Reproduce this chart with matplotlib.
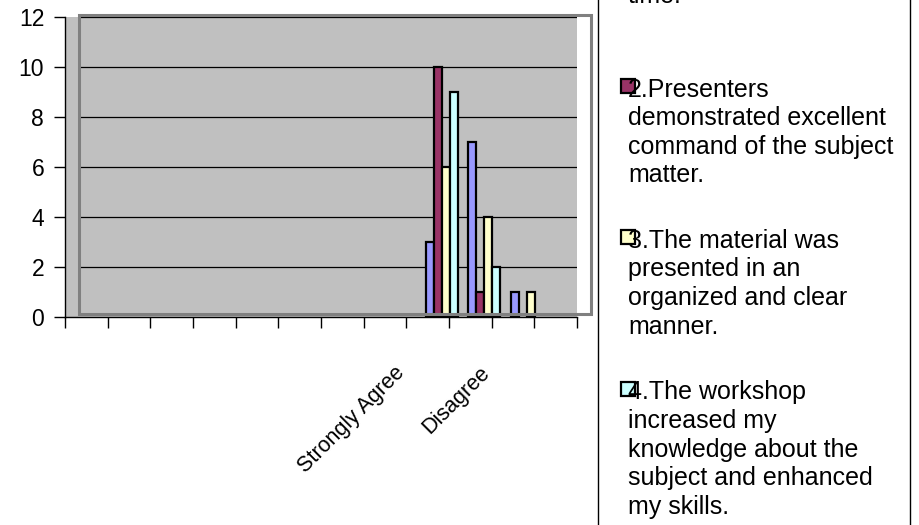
import numpy as np
import matplotlib
matplotlib.use("Agg")
from matplotlib import pyplot as plt
from matplotlib.patches import Rectangle
from matplotlib.lines import Line2D

plt.rcParams['font.family'] = ['Liberation Sans', 'DejaVu Sans']

# カテゴリ（表示されているラベルは2つだけ）
categories = ['', '', '', '', '', '', '', 'Strongly Agree', '', 'Disagree', '', '']

# 各設問の回答数
q1 = [0, 0, 0, 0, 0, 0, 0, 0, 3, 7, 1, 0]
q2 = [0, 0, 0, 0, 0, 0, 0, 0, 10, 1, 0, 0]
q3 = [0, 0, 0, 0, 0, 0, 0, 0, 6, 4, 1, 0]
q4 = [0, 0, 0, 0, 0, 0, 0, 0, 9, 2, 0, 0]

series_names = [
    '1.The workshop began and\nended at the scheduled\ntime.',
    '2.Presenters\ndemonstrated excellent\ncommand of the subject\nmatter.',
    '3.The material was\npresented in an\norganized and clear\nmanner.',
    '4.The workshop\nincreased my\nknowledge about the\nsubject and enhanced\nmy skills.',
]
colors = ['#9999FF', '#993366', '#FFFFCC', '#CCFFFF']

W, H = 919, 525
fig = plt.figure(figsize=(W / 100, H / 100), dpi=100)

# 軸の位置（ピクセル）
ax_l, ax_r, ax_t, ax_b = 65, 577, 17, 317
ax = fig.add_axes([ax_l / W, 1 - ax_b / H, (ax_r - ax_l) / W, (ax_b - ax_t) / H])
ax.set_facecolor('#C0C0C0')

n = len(categories)
x = np.arange(n)
shift = 0.33      # プロットエリアが右にずれている分
bw = 0.1875

for j, vals in enumerate([q1, q2, q3, q4]):
    bars = ax.bar(x + 0.5 + shift + (j - 1.5) * bw, vals, width=bw,
                  color=colors[j], edgecolor='black', linewidth=1.6, zorder=3)
    for b, v in zip(bars, vals):
        if v == 0:
            b.set_visible(False)

ax.set_xlim(0, n)
ax.set_ylim(0, 12)

# 目盛線
for yv in range(2, 13, 2):
    ax.axhline(yv, xmin=14 / 512, xmax=1, color='black', linewidth=0.9, zorder=1)

for s in ['top', 'right']:
    ax.spines[s].set_visible(False)
for s in ['left', 'bottom']:
    ax.spines[s].set_color('black')
    ax.spines[s].set_linewidth(1.0)

ax.set_yticks(range(0, 13, 2))
ax.tick_params(axis='y', direction='out', length=8, width=1, pad=7, labelsize=16.5)
ax.set_xticks(np.arange(0, n + 1))
ax.set_xticklabels([])
ax.tick_params(axis='x', which='major', direction='out', length=8, width=1)
ax.set_xticks(x + 0.5 + shift + 0.05, minor=True)
ax.set_xticklabels(categories, minor=True, rotation=45, ha='right', va='center',
                   rotation_mode='anchor', fontsize=15.5)
ax.tick_params(axis='x', which='minor', length=0, pad=38)

# プロットエリアの枠
fig.patches.append(Rectangle((79 / W, 1 - 314 / H), (591 - 79) / W, (314 - 15) / H,
                             transform=fig.transFigure, fill=False,
                             edgecolor='#808080', linewidth=2.2, zorder=5))

# 凡例の枠
for xl in [598, 910]:
    fig.lines.append(Line2D([xl / W, xl / W], [0, 1], transform=fig.transFigure,
                            color='black', linewidth=1.0))

# 凡例（各項目の1行目のベースライン位置）
line_h = 28.5
first_baseline = [3 - 2 * line_h, 97, 248, 400]
for name, c, yb in zip(series_names, colors, first_baseline):
    nlines = name.count('\n') + 1
    fig.patches.append(Rectangle((621 / W, 1 - (yb - 4) / H), 14 / W, 14 / H,
                                 transform=fig.transFigure, facecolor=c,
                                 edgecolor='black', linewidth=1.6, zorder=5))
    last = yb + (nlines - 1) * line_h
    fig.text(628 / W, 1 - last / H, name, fontsize=18, ha='left', va='baseline',
             linespacing=1.245, zorder=6)

fig.savefig('out.png', dpi=100)
